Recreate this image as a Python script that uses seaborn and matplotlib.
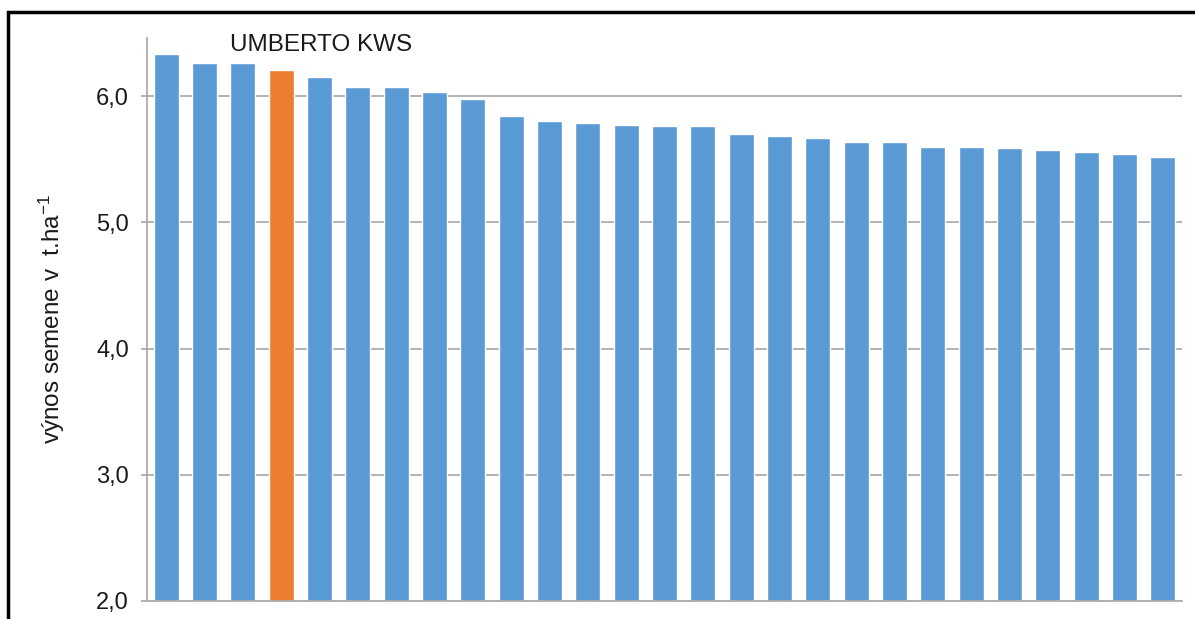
import matplotlib
import seaborn as sns
import matplotlib.pyplot as plt
from matplotlib.patches import Rectangle

# ------ data ------ #
varieties = ["odroda %d" % i for i in range(1, 28)]
varieties[3] = "UMBERTO KWS"
yields = [6.33, 6.26, 6.26, 6.21, 6.15, 6.07, 6.07, 6.03, 5.98,
          5.84, 5.80, 5.79, 5.77, 5.76, 5.76, 5.70, 5.68, 5.67,
          5.64, 5.64, 5.60, 5.60, 5.59, 5.57, 5.56, 5.54, 5.52]
highlight = "UMBERTO KWS"
y_ticks = [2.0, 3.0, 4.0, 5.0, 6.0]

sns.set_style("white")
matplotlib.rcParams['font.family'] = ['Liberation Sans', 'DejaVu Sans']
matplotlib.rcParams['mathtext.fontset'] = 'custom'
matplotlib.rcParams['mathtext.rm'] = 'Liberation Sans'
matplotlib.rcParams['mathtext.it'] = 'Liberation Sans'

BLUE = "#5B9BD5"
ORANGE = "#ED7D31"
GRID = "#ADADAD"
TXT = "#1a1a1a"

palette = {v: (ORANGE if v == highlight else BLUE) for v in varieties}

fig = plt.figure(figsize=(11.95, 6.19), dpi=100, facecolor="w")
ax = fig.add_axes([147 / 1195, 1 - 601 / 619, (1182 - 147) / 1195, (601 - 38) / 619])

sns.barplot(x=varieties, y=yields, hue=varieties, palette=palette,
            legend=False, width=0.645, saturation=1, ax=ax)

ax.set_ylim(2.0, 6.46)
ax.set_xlim(-0.5, len(varieties) - 0.5)
ax.set_yticks(y_ticks)
ax.set_yticklabels([("%.1f" % t).replace(".", ",") for t in y_ticks], fontsize=17, color=TXT)
ax.set_xticks([])
ax.set_axisbelow(True)
ax.yaxis.grid(True, color=GRID, linewidth=1.3)
ax.tick_params(axis="y", length=4, width=1.3, color=GRID, pad=9, left=True)

for s in ["top", "right"]:
    ax.spines[s].set_visible(False)
for s in ["left", "bottom"]:
    ax.spines[s].set_color(GRID)
    ax.spines[s].set_linewidth(1.3)

ax.set_ylabel(r"výnos semene v  t.ha$^{-1}$", fontsize=17.5, color=TXT)
ax.yaxis.set_label_coords(-0.077, 0.5)

ax.text(varieties.index(highlight) + 1.03, 6.405, highlight, ha="center", va="center",
        fontsize=17.5, color=TXT)

# black frame from the source document
fig.patches.append(Rectangle((8 / 1195, -0.2), 1.5, 1.2 - 12 / 619, transform=fig.transFigure,
                             fill=False, edgecolor="black", linewidth=2.5))

plt.savefig("out.png", dpi=100, facecolor="w")
